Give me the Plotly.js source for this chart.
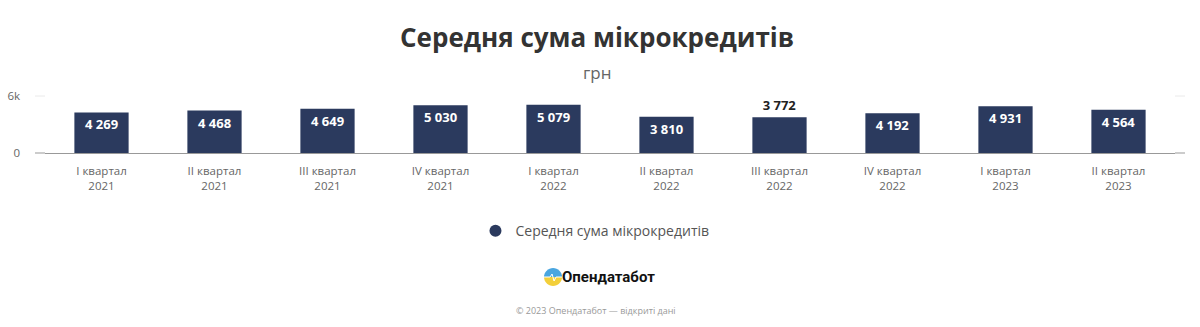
<!DOCTYPE html>
<html><head><meta charset="utf-8">
<script src="https://cdn.plot.ly/plotly-3.0.1.min.js"></script>
<style>html,body{margin:0;padding:0;background:#fff}#c{width:1200px;height:327px}</style>
</head><body><div id="c"></div>
<script>
const categories = ["I квартал<br>2021","II квартал<br>2021","III квартал<br>2021","IV квартал<br>2021","I квартал<br>2022","II квартал<br>2022","III квартал<br>2022","IV квартал<br>2022","I квартал<br>2023","II квартал<br>2023"];
const values = [4269,4468,4649,5030,5079,3810,3772,4192,4931,4564];
const seriesName = "Середня сума мікрокредитів";
const titleText = "Середня сума мікрокредитів";
const subtitleText = "грн";

const fmt = v => String(v).replace(/\B(?=(\d{3})+(?!\d))/g, " ");
const positions = values.map((v,i)=> i===6 ? "outside" : "inside");
const textColors = values.map((v,i)=> i===6 ? "#222" : "#fff");

// decorative logo half-discs
let lower = "M -9 -124";
for (let k=1;k<=16;k++){ const t=Math.PI*k/16; lower += ` L ${(-9*Math.cos(t)).toFixed(2)} ${(-124-9*Math.sin(t)).toFixed(2)}`; }
lower += " Z";
let upper = "M -9 -124";
for (let k=1;k<=16;k++){ const t=Math.PI*k/16; upper += ` L ${(-9*Math.cos(t)).toFixed(2)} ${(-124+9*Math.sin(t)).toFixed(2)}`; }
upper += " Z";

const data = [
 {type:"bar", x:categories, y:values, text:values.map(fmt), textposition:positions,
  insidetextanchor:"end", textangle:0, cliponaxis:false,
  textfont:{family:"Open Sans", size:13, color:textColors, weight:700},
  marker:{color:"#2b3a5e"}, showlegend:false, hoverinfo:"none"},
 {type:"scatter", mode:"markers", x:[null], y:[null], name:seriesName,
  marker:{symbol:"circle", size:14, color:"#2b3a5e"}, showlegend:true}
];

const layout = {
 width:1200, height:327,
 margin:{l:45, r:25, t:96, b:174},
 paper_bgcolor:"#fff", plot_bgcolor:"#fff",
 font:{family:"Open Sans", color:"#666"},
 bargap:0.52,
 xaxis:{type:"category", showgrid:false, showline:true, linecolor:"#999", linewidth:1,
   tickfont:{size:11.5, color:"#666"}, ticks:"", ticklen:0, ticklabelstandoff:7, automargin:false},
 yaxis:{range:[0,6000], tickvals:[0,6000], ticktext:["0","6k"], showgrid:true, gridcolor:"#eaeaea",
   zeroline:false, showline:false, tickfont:{size:11.5, color:"#666"}, ticks:"", ticklabelstandoff:24, automargin:false},
 showlegend:true,
 legend:{orientation:"h", x:0.4867, xanchor:"center", y:-1.37, yanchor:"middle",
   font:{size:14, color:"#555"}, itemsizing:"constant", itemwidth:30},
 annotations:[
  {text:titleText, xref:"paper", yref:"paper", x:0.5, y:1, yshift:59, xshift:-13, xanchor:"center", yanchor:"middle",
   showarrow:false, font:{family:"Open Sans", size:26, color:"#333", weight:700}},
  {text:subtitleText, xref:"paper", yref:"paper", x:0.5, y:1, yshift:24, xshift:-13, xanchor:"center", yanchor:"middle",
   showarrow:false, font:{family:"Open Sans", size:17, color:"#666"}},
  {text:"Опендатабот", xref:"paper", yref:"paper", x:0.5, y:0, yshift:-124, xshift:-2, xanchor:"center", yanchor:"middle",
   showarrow:false, font:{family:"Roboto", size:15, color:"#111", weight:700}},
  {text:"© 2023 Опендатабот — відкриті дані", xref:"paper", yref:"paper", x:0.5, y:0, yshift:-157, xshift:-14, xanchor:"center", yanchor:"middle",
   showarrow:false, font:{family:"Open Sans", size:9, color:"#999"}}
 ],
 shapes:[
  {type:"line", xref:"paper", yref:"paper", xsizemode:"pixel", xanchor:0, x0:-10, x1:0, y0:0, y1:0, line:{color:"#999", width:1}},
  {type:"line", xref:"paper", yref:"paper", xsizemode:"pixel", xanchor:1, x0:0, x1:10, y0:0, y1:0, line:{color:"#999", width:1}},
  {type:"line", xref:"paper", yref:"paper", xsizemode:"pixel", xanchor:0, x0:-10, x1:0, y0:1, y1:1, line:{color:"#eaeaea", width:1}},
  {type:"line", xref:"paper", yref:"paper", xsizemode:"pixel", xanchor:1, x0:0, x1:10, y0:1, y1:1, line:{color:"#eaeaea", width:1}},
  {type:"path", xref:"paper", yref:"paper", xsizemode:"pixel", ysizemode:"pixel",
   xanchor:0.4496, yanchor:0, path:lower, fillcolor:"#f3cf3a", line:{width:0}},
  {type:"path", xref:"paper", yref:"paper", xsizemode:"pixel", ysizemode:"pixel",
   xanchor:0.4496, yanchor:0, path:upper, fillcolor:"#4aa6e0", line:{width:0}},
  {type:"path", xref:"paper", yref:"paper", xsizemode:"pixel", ysizemode:"pixel",
   xanchor:0.4496, yanchor:0, path:"M -9 -124 L -3 -124 L -1 -121 L 1 -128 L 3 -124 L 9 -124", line:{width:1, color:"#fff"}}
 ]
};
Plotly.newPlot("c", data, layout, {displayModeBar:false, staticPlot:true});
</script></body></html>
